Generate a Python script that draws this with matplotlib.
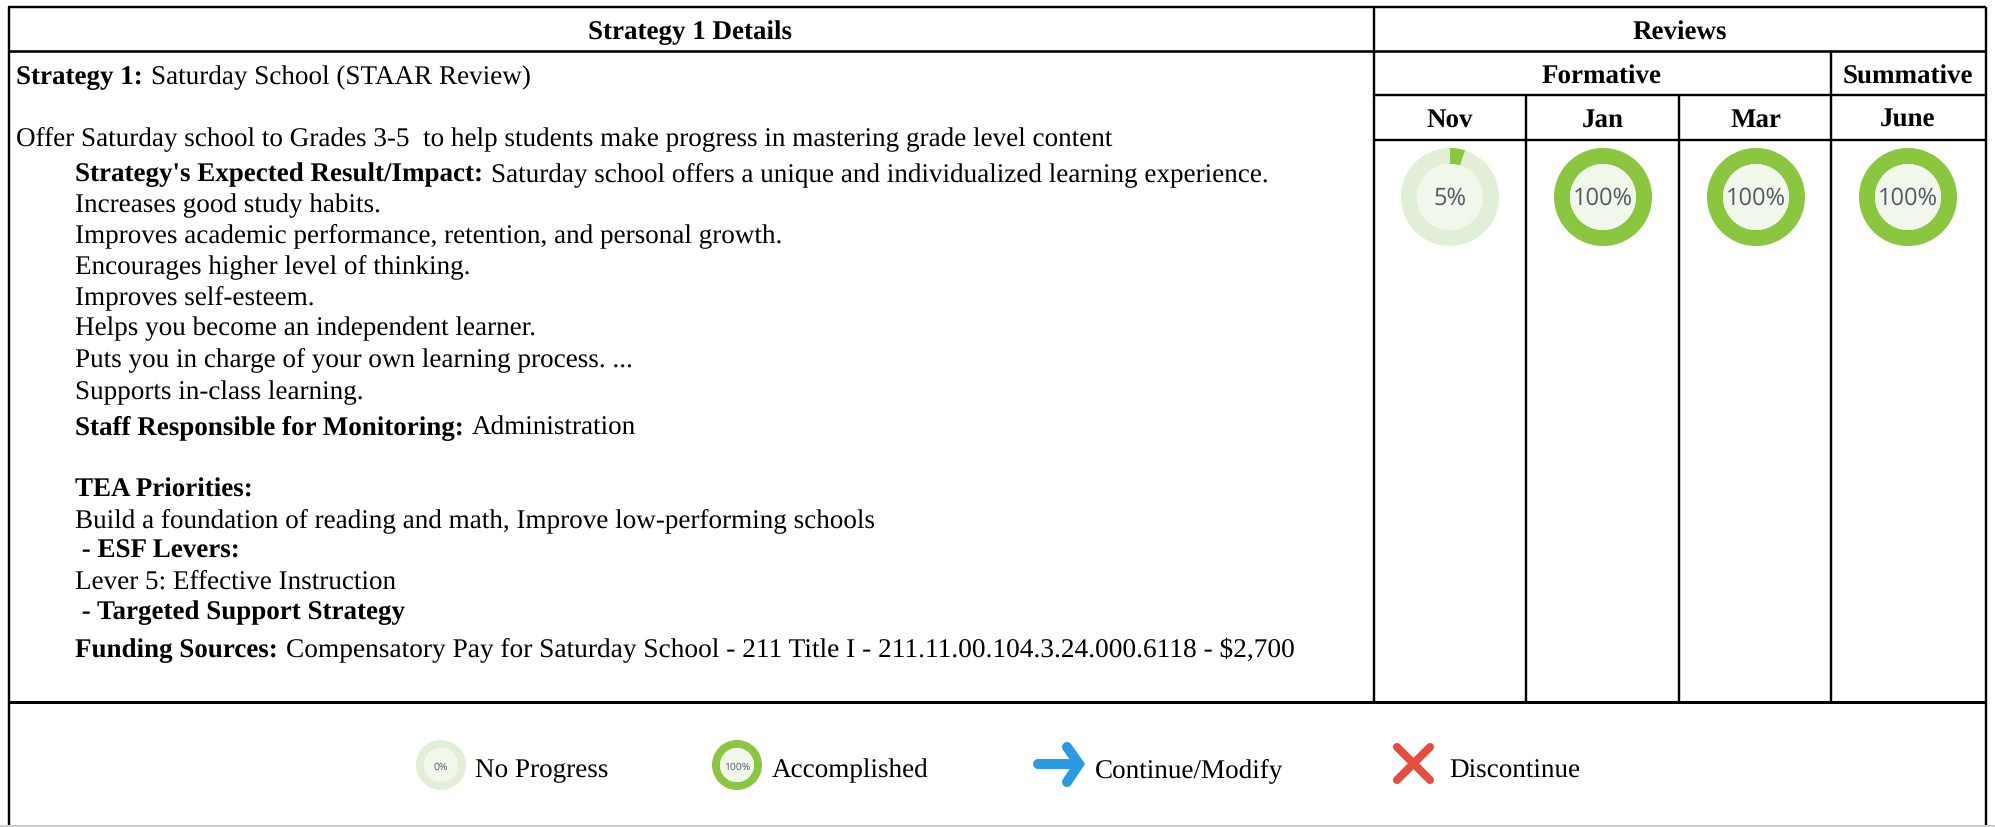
import matplotlib
matplotlib.use('Agg')
import matplotlib.pyplot as plt
from matplotlib.patches import Circle

plt.rcParams['font.family'] = ['Liberation Serif', 'DejaVu Serif']
plt.rcParams['text.hinting'] = 'no_hinting'

# Review values
months = ['Nov', 'Jan', 'Mar', 'June']
review_pct = [5, 100, 100, 100]
legend_pct = [0, 100]
legend_names = ['No Progress', 'Accomplished', 'Continue/Modify', 'Discontinue']

# Text lines of the details cell: (bold part, normal part)
detail_lines = [
    ('Strategy 1: ', 'Saturday School (STAAR Review)'),
    ('', 'Offer Saturday school to Grades 3-5  to help students make progress in mastering grade level content'),
    ("Strategy's Expected Result/Impact: ", 'Saturday school offers a unique and individualized learning experience.'),
    ('', 'Increases good study habits.'),
    ('', 'Improves academic performance, retention, and personal growth.'),
    ('', 'Encourages higher level of thinking.'),
    ('', 'Improves self-esteem.'),
    ('', 'Helps you become an independent learner.'),
    ('', 'Puts you in charge of your own learning process. ...'),
    ('', 'Supports in-class learning.'),
    ('Staff Responsible for Monitoring: ', 'Administration'),
    ('TEA Priorities:', ''),
    ('', 'Build a foundation of reading and math, Improve low-performing schools'),
    (' - ESF Levers:', ''),
    ('', 'Lever 5: Effective Instruction'),
    (' - Targeted Support Strategy', ''),
    ('Funding Sources: ', 'Compensatory Pay for Saturday School - 211 Title I - 211.11.00.104.3.24.000.6118 - $2,700'),
]
line_x = [16] * 2 + [75] * 15
line_y = [84, 145, 181, 212, 242, 273, 304, 335, 366, 399, 434, 497, 527, 558, 589, 619, 657]

GREEN = '#8BC63F'
PALE = '#E2EFD8'
INNER = '#F1F7EB'
FS = 19.5
FS_BOLD = 19.45

fig = plt.figure(figsize=(19.95, 8.27), dpi=100)
ax = fig.add_axes([0, 0, 1, 1])


def donut(cx, cy, r, r_in, pct, size):
    # y axis is flipped below, so 270 is the top and counterclock runs clockwise on screen
    ax.pie([pct, 100 - pct], colors=[GREEN, PALE], center=(cx, cy), radius=r,
           startangle=270, counterclock=True, wedgeprops={'width': r - r_in, 'linewidth': 0})
    ax.add_patch(Circle((cx, cy), r_in, fc=INNER, ec='none', zorder=3))
    ax.text(cx, cy + 2, f'{pct}%', ha='center', va='center', fontsize=size, color='#4f5b66',
            family='Open Sans', zorder=4)


for m, pct, cx in zip(months, review_pct, [1450, 1603, 1756, 1908]):
    donut(cx, 197, 49, 33, pct, 17)
    ax.text(cx, 120, m, ha='center', va='center', fontsize=FS_BOLD, fontweight='bold')
for pct, cx in zip(legend_pct, [441, 737]):
    donut(cx, 765, 25, 17, pct, 7.5)

ax.set_xlim(0, 1995)
ax.set_ylim(827, 0)
ax.set_aspect('auto')
ax.axis('off')


def hline(y, x0, x1, lw=2.4):
    ax.plot([x0, x1], [y, y], color='black', lw=lw * 0.72, solid_capstyle='butt', zorder=5)


def vline(x, y0, y1, lw=2.4):
    ax.plot([x, x], [y0, y1], color='black', lw=lw * 0.72, solid_capstyle='butt', zorder=5)


hline(7, 8, 1986)
hline(51, 8, 1986, 2.6)
hline(95, 1374, 1986)
hline(140, 1374, 1986)
hline(702, 8, 1986, 3)
vline(9, 7, 827)
vline(1986, 7, 827)
vline(1374, 7, 702)
vline(1831, 51, 702)
vline(1526, 95, 702)
vline(1679, 95, 702)
hline(826, 0, 1995, 2)
ax.lines[-1].set_color('#cccccc')

ax.text(690, 33, 'Strategy 1 Details', ha='center', va='center', fontsize=FS_BOLD, fontweight='bold')
ax.text(1680, 33, 'Reviews', ha='center', va='center', fontsize=FS_BOLD, fontweight='bold')
ax.text(1602, 77, 'Formative', ha='center', va='center', fontsize=FS_BOLD, fontweight='bold')
ax.text(1908, 77, 'Summative', ha='center', va='center', fontsize=FS_BOLD, fontweight='bold')

fig.canvas.draw()
rend = fig.canvas.get_renderer()
for (bold, normal), x, y in zip(detail_lines, line_x, line_y):
    nx = x
    if bold:
        t = ax.text(x, y, bold.rstrip(), fontsize=FS_BOLD, fontweight='bold', va='baseline')
        nx = t.get_window_extent(rend).x1 + 8
    if normal:
        # agg rounds the baseline differently for text without descenders
        dy = 1 if normal == 'Administration' else 0
        # the funding line runs a little wider in the reference
        size = 19.7 if bold.startswith('Funding') else FS
        ax.text(nx, y + dy, normal, fontsize=size, va='baseline')

# legend names and the arrow and cross icons
for name, x in zip(legend_names, [475, 772, 1095, 1449]):
    ax.text(x, 778 if name == 'Discontinue' else 777, name, fontsize=FS, va='baseline')
ax.plot([1038, 1076], [764, 764], color='#2A9AE2', lw=7.2, solid_capstyle='round', zorder=4)
ax.plot([1067, 1079, 1067], [747, 764, 782], color='#2A9AE2', lw=7.2, solid_capstyle='round',
        solid_joinstyle='miter', zorder=4)
ax.plot([1397, 1430], [747, 780], color='#E94B3C', lw=5.8, solid_capstyle='round', zorder=4)
ax.plot([1397, 1430], [780, 747], color='#E94B3C', lw=5.8, solid_capstyle='round', zorder=4)

fig.savefig('out.png', dpi=100, facecolor='white')
